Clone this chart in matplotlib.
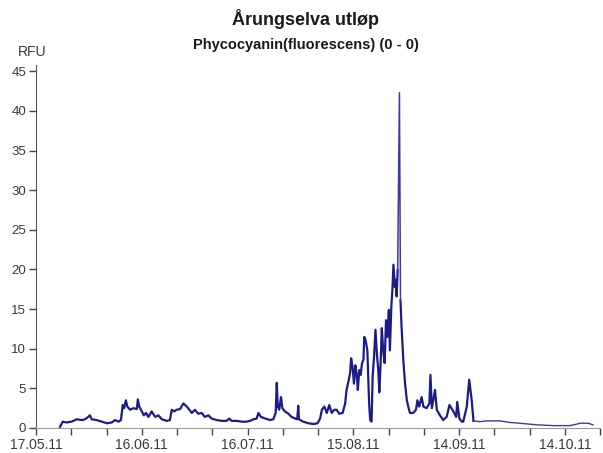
import datetime as dt
import numpy as np
import matplotlib
matplotlib.use("Agg")
import matplotlib.pyplot as plt
import matplotlib.dates as mdates
from matplotlib.ticker import FixedLocator

plt.rcParams["font.family"] = ["Liberation Sans", "DejaVu Sans"]

# Measurement series: days after 17.05.2011 and phycocyanin signal (RFU)
start = dt.datetime(2011, 5, 17)
days = [
    6.8, 7.6, 8.7, 10.1, 11.6, 13.0, 13.9, 14.8, 15.3, 15.8, 17.2, 18.6, 20.1,
    21.5, 22.4, 23.4, 24.1, 24.6, 25.0, 25.5, 25.9, 26.7, 27.6, 28.6, 28.9,
    29.3, 30.0, 30.6, 31.2, 31.9, 32.8, 33.8, 34.7, 35.7, 37.1, 38.0, 38.5,
    39.2, 39.9, 40.9, 41.8, 42.8, 43.5, 44.2, 45.1, 46.0, 47.0, 47.9, 48.9,
    49.8, 51.3, 52.7, 54.1, 54.8, 55.5, 56.9, 58.4, 59.8, 60.7, 61.7, 62.6,
    63.1, 63.8, 65.0, 66.4, 67.3, 68.0, 68.3, 68.6, 69.0, 69.5, 69.9, 70.6,
    71.6, 72.5, 73.5, 74.1, 74.4, 74.6, 75.8, 77.3, 78.7, 79.9, 80.6, 81.1,
    81.8, 82.5, 83.2, 83.9, 84.6, 85.3, 86.0, 87.0, 87.7, 88.1, 88.6, 89.1,
    89.4, 89.8, 90.2, 90.6, 91.0, 91.3, 91.7, 92.1, 92.5, 92.9, 93.1, 93.5,
    94.0, 94.5, 94.8, 95.2, 95.5, 95.9, 96.3, 96.7, 97.1, 97.4, 97.8, 98.1,
    98.5, 98.9, 99.3, 99.7, 100.1, 100.4, 100.8, 101.1, 101.4, 101.8, 102.0,
    102.3, 102.6, 103.1, 103.4, 103.7, 104.2, 104.7, 105.2, 105.6, 106.1,
    107.0, 107.8, 108.2, 108.7, 109.4, 109.9, 110.8, 111.6, 111.9, 112.3,
    113.2, 113.7, 114.6, 115.5, 116.5, 117.3, 118.4, 119.2, 119.5, 120.1,
    120.8, 121.2, 122.2, 122.9, 123.6, 124.1, 126.0, 127.9, 131.6, 134.5,
    137.3, 142.0, 146.8, 151.5, 153.5, 154.3, 156.7, 158.0,
]
rfu = [
    0.15, 0.8, 0.7, 0.8, 1.1, 1.0, 1.1, 1.4, 1.6, 1.1, 1.0, 0.8, 0.6,
    0.7, 1.0, 0.8, 1.0, 2.9, 2.5, 3.5, 2.7, 2.3, 2.5, 2.4, 3.6,
    2.7, 2.1, 1.6, 1.9, 1.4, 2.1, 1.4, 1.6, 1.1, 0.9, 1.0, 2.3,
    2.1, 2.3, 2.4, 3.1, 2.7, 2.3, 1.9, 2.3, 1.8, 1.9, 1.4, 1.6,
    1.2, 1.0, 0.9, 0.9, 1.2, 0.9, 0.9, 0.8, 0.8, 0.9, 1.1, 1.2,
    1.9, 1.4, 1.2, 1.0, 1.1, 1.9, 5.7, 2.7, 2.3, 3.9, 2.5, 2.1,
    1.8, 1.4, 1.2, 1.1, 2.8, 1.1, 0.8, 0.6, 0.5, 0.6, 1.2, 2.3,
    2.7, 1.9, 2.9, 1.9, 2.3, 2.3, 1.8, 1.9, 3.1, 4.8, 5.8, 6.9,
    8.8, 7.7, 5.6, 7.9, 6.7, 4.8, 7.3, 6.7, 8.2, 8.6, 11.5, 11.1,
    9.8, 3.1, 1.0, 0.8, 6.5, 9.0, 12.4, 9.4, 7.3, 4.5, 8.6, 12.6,
    9.8, 8.2, 13.6, 11.5, 14.9, 9.8, 15.3, 17.4, 20.6, 17.8, 18.7,
    16.6, 19.9, 42.3, 16.1, 12.8, 8.6, 5.6, 3.5, 2.7, 1.9,
    1.9, 2.3, 3.5, 2.7, 3.9, 2.7, 2.5, 3.1, 6.7, 2.5,
    4.8, 2.3, 1.6, 1.0, 1.4, 2.9, 2.1, 1.4, 3.3, 1.2,
    0.8, 0.8, 2.7, 6.1, 3.5, 0.9, 0.8, 0.9, 0.9, 0.7,
    0.6, 0.4, 0.3, 0.3, 0.5, 0.6, 0.6, 0.4,
]

title = "Årungselva utløp"
subtitle = "Phycocyanin(fluorescens) (0 - 0)"
y_unit = "RFU"
y_ticks = list(range(0, 50, 5))

dates = np.array([start + dt.timedelta(days=d) for d in days])
values = np.array(rfu)
major_days = [start + dt.timedelta(days=int(d)) for d in range(0, 161, 30)]
minor_days = [start + dt.timedelta(days=int(d)) for d in range(0, 161, 10)]

fig = plt.figure(figsize=(6.03, 4.53), dpi=100)
ax = fig.add_axes([36 / 603, 25 / 453, 564 / 603, 363 / 453])

# dense logging periods drawn heavier; the single spike and the sparse tail thinner
days_arr = np.array(days)
heavy_1 = days_arr <= 102.6
spike = (days_arr >= 102.6) & (days_arr <= 103.4)
heavy_2 = (days_arr >= 103.4) & (days_arr <= 124.1)
tail = days_arr >= 124.1
for mask in (heavy_1, heavy_2):
    ax.plot(dates[mask], values[mask], color="#1c1c88", lw=1.6,
            solid_joinstyle="round")
ax.plot(dates[spike], values[spike], color="#3a3aa6", lw=1.1)
ax.plot(dates[tail], values[tail], color="#3a3aa6", lw=1.0)

ax.set_xlim(start, start + dt.timedelta(days=160))
ax.set_ylim(0, 45.8)
ax.xaxis.set_major_locator(FixedLocator(mdates.date2num(major_days)))
ax.xaxis.set_minor_locator(FixedLocator(mdates.date2num(minor_days)))
ax.xaxis.set_major_formatter(mdates.DateFormatter("%d.%m.%y"))
ax.set_yticks(y_ticks)

for side in ["top", "right"]:
    ax.spines[side].set_visible(False)
ax.spines["left"].set_color("#555555")
ax.spines["bottom"].set_color("#9a9a9a")
ax.tick_params(axis="both", which="both", length=5, width=1, color="#444444",
               labelcolor="#3a3a3a", pad=2)
ax.tick_params(axis="x", labelsize=10)
ax.tick_params(axis="y", labelsize=9.5)

fig.text(306 / 603, 1 - 19 / 453, title, ha="center", va="center",
         fontsize=13, fontweight="bold", color="#1a1a1a")
fig.text(306 / 603, 1 - 45 / 453, subtitle, ha="center", va="center",
         fontsize=10.5, fontweight="bold", color="#1a1a1a")
fig.text(32 / 603, 1 - 52 / 453, y_unit, ha="center", va="center",
         fontsize=10, color="#3a3a3a")

fig.savefig("out.png", dpi=100)
